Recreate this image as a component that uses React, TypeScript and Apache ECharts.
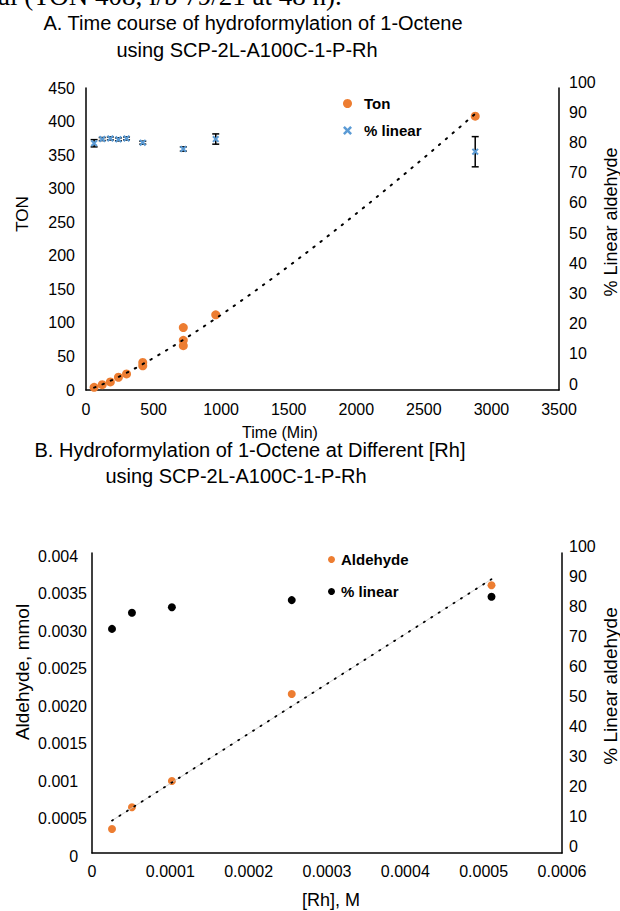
import React, { useEffect, useRef } from "react";
import * as echarts from "echarts";

// ---------- Data: chart A (time course) ----------
const timeMin = [60, 120, 180, 240, 300, 420, 420, 720, 720, 720, 960, 2880];
const tonValues = [4, 8, 12, 19, 24, 36, 41, 66, 74, 93, 112, 408];
const linTime = [60, 120, 180, 240, 300, 420, 720, 960, 2880];
const linPct = [81.7, 83.1, 83.3, 83.0, 83.3, 81.9, 79.8, 83.1, 78.9];
const linErr = [1.2, 0.5, 0.5, 0.5, 0.5, 0.5, 0.7, 1.7, 5.0];

// ---------- Data: chart B (different [Rh]) ----------
const rhConc = [0.0000255, 0.000051, 0.000102, 0.000255, 0.00051];
const aldehydeMmol = [0.00032, 0.00061, 0.00096, 0.00212, 0.00357];
const linearB = [74.7, 80.1, 81.9, 84.3, 85.4];
const aldTicks = ["0\u2007", "0.0005", "0.001\u2007", "0.0015", "0.0020", "0.0025", "0.0030", "0.0035", "0.004\u2007"];
const rhTicks = ["0", "0.0001", "0.0002", "0.0003", "0.0004", "0.0005", "0.0006"];

const FONT = "'Liberation Sans', Arial, sans-serif";
const SERIF = "'Liberation Serif', 'Times New Roman', serif";
const ORANGE = "#ED7D31";
const BLUE = "#5B9BD5";
const X_PATH = "path://M2,0L5,3L8,0L10,2L7,5L10,8L8,10L5,7L2,10L0,8L3,5L0,2Z";

// Power trendline (least squares in log space, as a spreadsheet "power" trendline)
function powerFit(xs: number[], ys: number[]) {
  const lx = xs.map(Math.log), ly = ys.map(Math.log);
  const n = xs.length;
  const mx = lx.reduce((a, b) => a + b, 0) / n;
  const my = ly.reduce((a, b) => a + b, 0) / n;
  let sxy = 0, sxx = 0;
  for (let i = 0; i < n; i++) {
    sxy += (lx[i] - mx) * (ly[i] - my);
    sxx += (lx[i] - mx) * (lx[i] - mx);
  }
  const b = sxy / sxx;
  return [Math.exp(my - b * mx), b];
}

function linFit(xs: number[], ys: number[]) {
  const n = xs.length;
  const mx = xs.reduce((a, b) => a + b, 0) / n;
  const my = ys.reduce((a, b) => a + b, 0) / n;
  let sxy = 0, sxx = 0;
  for (let i = 0; i < n; i++) {
    sxy += (xs[i] - mx) * (ys[i] - my);
    sxx += (xs[i] - mx) * (xs[i] - mx);
  }
  const b = sxy / sxx;
  return [my - b * mx, b];
}

function txt(text: string, x: number, y: number, size: number, opts: any = {}) {
  return {
    type: "text",
    x,
    y,
    rotation: opts.rotation || 0,
    silent: true,
    style: {
      text,
      fill: "#000",
      fontSize: size,
      fontFamily: opts.fontFamily || FONT,
      fontWeight: opts.fontWeight || "normal",
      align: opts.align || "center",
      textAlign: opts.align || "center",
      verticalAlign: opts.verticalAlign || "middle",
      textVerticalAlign: opts.verticalAlign || "middle",
    },
  };
}

const axisLine = { show: true, onZero: false, lineStyle: { color: "#000", width: 1.5 } };
const labelBase = { color: "#000", fontSize: 16, fontFamily: FONT };

const errRender = (params: any, api: any) => {
  const x = api.value(0), y = api.value(1), e = api.value(2);
  const p1 = api.coord([x, y + e]);
  const p2 = api.coord([x, y - e]);
  const c = 3.5;
  const style = { stroke: "#000", lineWidth: 1.5 };
  return {
    type: "group",
    children: [
      { type: "line", shape: { x1: p1[0], y1: p1[1], x2: p2[0], y2: p2[1] }, style },
      { type: "line", shape: { x1: p1[0] - c, y1: p1[1], x2: p1[0] + c, y2: p1[1] }, style },
      { type: "line", shape: { x1: p2[0] - c, y1: p2[1], x2: p2[0] + c, y2: p2[1] }, style },
    ],
  };
};

function buildA() {
  const [pa, pb] = powerFit(timeMin, tonValues);
  const x0 = Math.min(...timeMin), x1 = Math.max(...timeMin);
  const trend: number[][] = [];
  const steps = 80;
  for (let i = 0; i <= steps; i++) {
    const x = x0 + ((x1 - x0) * i) / steps;
    trend.push([x, pa * Math.pow(x, pb)]);
  }
  return {
    animation: false,
    textStyle: { fontFamily: FONT },
    grid: { left: 86, top: 88, width: 473, height: 302, containLabel: false },
    xAxis: {
      type: "value", min: 0, max: 3500, interval: 500,
      axisLine, axisTick: { show: false }, splitLine: { show: false },
      axisLabel: { ...labelBase, margin: 11, formatter: (v: number) => String(v) },
    },
    yAxis: [
      {
        type: "value", min: 0, max: 450, interval: 50, position: "left",
        axisLine, axisTick: { show: false }, splitLine: { show: false },
        axisLabel: { ...labelBase, margin: 11 },
      },
      {
        type: "value", min: 0, max: 100, interval: 10, position: "right",
        axisLine, axisTick: { show: false }, splitLine: { show: false },
        axisLabel: { ...labelBase, margin: 10, verticalAlign: "bottom", lineHeight: 12 },
      },
    ],
    legend: {
      data: [{ name: "Ton", icon: "circle" }, { name: "% linear", icon: X_PATH }],
      orient: "vertical", left: 338, top: 91, itemWidth: 9, itemHeight: 9, itemGap: 12,
      selectedMode: false,
      textStyle: { fontSize: 15, fontWeight: "bold", color: "#000", fontFamily: FONT, padding: [0, 0, 0, 7] },
    },
    series: [
      {
        name: "Ton", type: "scatter", symbol: "circle", symbolSize: 9,
        itemStyle: { color: ORANGE, opacity: 1 },
        data: timeMin.map((t, i) => [t, tonValues[i]]), z: 2,
      },
      {
        name: "trendA", type: "line", data: trend, symbol: "none", silent: true, z: 3,
        lineStyle: { color: "#000", width: 2, type: [1.5, 7.5], cap: "round" },
      },
      {
        name: "errA", type: "custom", yAxisIndex: 1, renderItem: errRender, silent: true, z: 4,
        data: linTime.map((t, i) => [t, linPct[i], linErr[i]]),
      },
      {
        name: "% linear", type: "scatter", yAxisIndex: 1, symbol: X_PATH, symbolSize: 7,
        itemStyle: { color: BLUE, opacity: 1 },
        data: linTime.map((t, i) => [t, linPct[i]]), z: 5,
      },
    ],
    graphic: [
      txt("al (TON 408, l/b 79/21 at 48 h).", -2, 9, 27, { fontFamily: SERIF, align: "left", verticalAlign: "bottom" }),
      txt("A. Time course of hydroformylation of 1-Octene", 253, 23, 20),
      txt("using SCP-2L-A100C-1-P-Rh", 247, 50, 20),
      txt("TON", 22.5, 214, 17, { rotation: Math.PI / 2 }),
      txt("% Linear aldehyde", 611, 222, 18, { rotation: Math.PI / 2 }),
      txt("Time (Min)", 280, 432, 16),
    ],
  };
}

function buildB() {
  const [la, lb] = linFit(rhConc, aldehydeMmol);
  const x0 = Math.min(...rhConc), x1 = Math.max(...rhConc);
  const trend = [[x0, la + lb * x0], [x1, la + lb * x1]];
  return {
    animation: false,
    textStyle: { fontFamily: FONT },
    grid: { left: 92, top: 553, width: 470, height: 300, containLabel: false },
    xAxis: {
      type: "value", min: 0, max: 0.0006, interval: 0.0001,
      axisLine, axisTick: { show: false }, splitLine: { show: false },
      axisLabel: { ...labelBase, margin: 10, formatter: (v: number) => rhTicks[Math.round(v / 0.0001)] },
    },
    yAxis: [
      {
        type: "value", min: 0, max: 0.004, interval: 0.0005, position: "left",
        axisLine, axisTick: { show: false }, splitLine: { show: false },
        axisLabel: {
          ...labelBase, margin: 5, verticalAlign: "top", lineHeight: 6,
          formatter: (v: number) => aldTicks[Math.round(v / 0.0005)],
        },
      },
      {
        type: "value", min: 0, max: 100, interval: 10, position: "right",
        axisLine, axisTick: { show: false }, splitLine: { show: false },
        axisLabel: { ...labelBase, margin: 7, verticalAlign: "bottom", lineHeight: 14 },
      },
    ],
    legend: {
      data: [{ name: "Aldehyde", icon: "circle" }, { name: "% linear", icon: "circle" }],
      orient: "vertical", left: 323, top: 547, itemWidth: 7, itemHeight: 7, itemGap: 17,
      selectedMode: false,
      textStyle: { fontSize: 15, fontWeight: "bold", color: "#000", fontFamily: FONT, padding: [0, 0, 0, 1] },
    },
    series: [
      {
        name: "Aldehyde", type: "scatter", symbol: "circle", symbolSize: 8,
        itemStyle: { color: ORANGE, opacity: 1 },
        data: rhConc.map((x, i) => [x, aldehydeMmol[i]]), z: 2,
      },
      {
        name: "% linear", type: "scatter", yAxisIndex: 1, symbol: "circle", symbolSize: 8,
        itemStyle: { color: "#000", opacity: 1 },
        data: rhConc.map((x, i) => [x, linearB[i]]), z: 2,
      },
      {
        name: "trendBLine", type: "line", data: trend, symbol: "none", silent: true, z: 3,
        lineStyle: { color: "#c8c8c8", width: 0.8 },
      },
      {
        name: "trendBDots", type: "line", data: trend, symbol: "none", silent: true, z: 4,
        lineStyle: { color: "#000", width: 1.8, type: [1.2, 7.6], cap: "round" },
      },
    ],
    graphic: [
      txt("B. Hydroformylation of 1-Octene at Different [Rh]", 250, 450, 20),
      txt("using SCP-2L-A100C-1-P-Rh", 236, 476, 20),
      txt("Aldehyde, mmol", 22, 672, 19, { rotation: Math.PI / 2 }),
      txt("% Linear aldehyde", 610, 686, 19, { rotation: Math.PI / 2 }),
      txt("[Rh], M", 331, 900, 18),
    ],
  };
}

export default function App() {
  const refA = useRef<HTMLDivElement>(null);
  const refB = useRef<HTMLDivElement>(null);

  useEffect(() => {
    document.body.style.margin = "0";
    const a = echarts.init(refA.current!, undefined, { renderer: "svg" });
    const b = echarts.init(refB.current!, undefined, { renderer: "svg" });
    a.setOption(buildA() as any);
    b.setOption(buildB() as any);
    return () => {
      a.dispose();
      b.dispose();
    };
  }, []);

  const layer: React.CSSProperties = { position: "absolute", left: 0, top: 0, width: 620, height: 911 };
  return (
    <div style={{ position: "relative", width: 620, height: 911, background: "#fff", overflow: "hidden" }}>
      <div ref={refA} style={layer} />
      <div ref={refB} style={layer} />
    </div>
  );
}
